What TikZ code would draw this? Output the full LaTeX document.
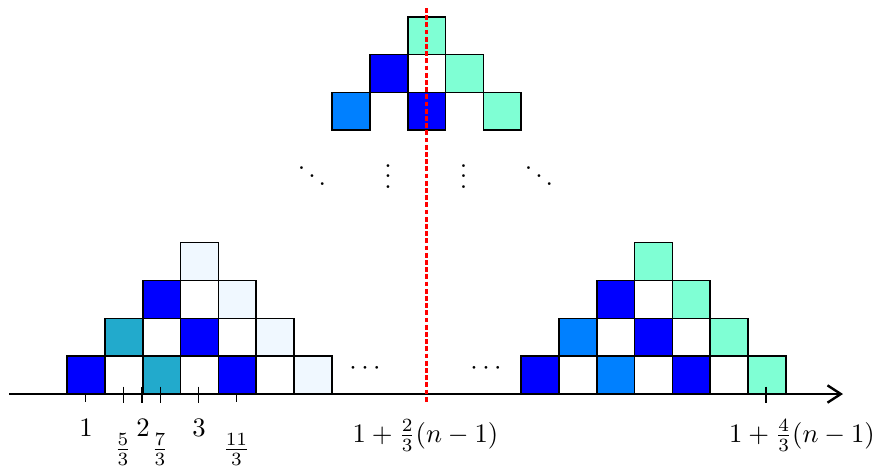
\documentclass[tikz,border=0pt]{standalone}
\usetikzlibrary{arrows.meta}
\definecolor{cblue}{HTML}{0000FF}
\definecolor{cteal}{HTML}{22AACC}
\definecolor{cazure}{HTML}{0080FF}
\definecolor{caqua}{HTML}{7FFFD4}
\definecolor{calice}{HTML}{F0F8FF}
\newcommand\mycell[3]{\filldraw[cellbox,fill=#3] (#1,#2) rectangle ++(\s,\s);}
\begin{document}
\begin{tikzpicture}[x=0.375pt,y=-0.375pt,
  cellbox/.style={draw=black,line width=0.6pt},
  lbl/.style={anchor=base,inner sep=0pt},
  tickline/.style={line width=0.5pt},
  axisline/.style={line width=0.9pt,-{Straight Barb[length=5pt,width=6.5pt]}},
  symline/.style={red,line width=1.1pt,dash pattern=on 1.8pt off 0.9pt}]
\useasboundingbox (0,0) rectangle (875,466);
\def\s{37.85}
% left pyramid
\foreach \c [count=\i from 0] in {cblue,white,cteal,white,cblue,white,calice} {\mycell{67+\i*\s}{356.15}{\c}}
\foreach \c [count=\i from 1] in {cteal,white,cblue,white,calice} {\mycell{67+\i*\s}{318.3}{\c}}
\foreach \c [count=\i from 2] in {cblue,white,calice} {\mycell{67+\i*\s}{280.45}{\c}}
\mycell{67+3*\s}{242.6}{calice}
% right pyramid
\foreach \c [count=\i from 0] in {cblue,white,cazure,white,cblue,white,caqua} {\mycell{521+\i*\s}{356.15}{\c}}
\foreach \c [count=\i from 1] in {cazure,white,cblue,white,caqua} {\mycell{521+\i*\s}{318.3}{\c}}
\foreach \c [count=\i from 2] in {cblue,white,caqua} {\mycell{521+\i*\s}{280.45}{\c}}
\mycell{521+3*\s}{242.6}{caqua}
% top pyramid
\mycell{332}{92.4}{cazure}
\mycell{332+2*\s}{92.4}{cblue}
\mycell{332+4*\s}{92.4}{caqua}
\foreach \c [count=\i from 1] in {cblue,white,caqua} {\mycell{332+\i*\s}{54.55}{\c}}
\mycell{332+2*\s}{16.7}{caqua}
% axis
\coordinate (axL) at (9,394);
\coordinate (axR) at (843,394);
\draw[axisline] (axL) -- (axR);
% ticks
\coordinate (t1) at (85.7,394);
\coordinate (t53) at (123.3,394);
\coordinate (t2) at (142,394);
\coordinate (t73) at (160.5,394);
\coordinate (t3) at (198.7,394);
\coordinate (t113) at (236.7,394);
\coordinate (tn) at (766,394);
\foreach \t in {t1,t113} {\draw[tickline] (\t) -- ++(0,8);}
\foreach \t in {t53,t2,t73,t3,tn} {\draw[tickline] ([yshift=2.8pt]\t) -- ++(0,16);}
% labels
\node[lbl] (l1) at (86,436) {$1$};
\node[lbl] (l2) at (143,436) {$2$};
\node[lbl] (l3) at (199,436) {$3$};
\node[lbl] (l53) at (123,456) {$\frac{5}{3}$};
\node[lbl] (l73) at (160,456) {$\frac{7}{3}$};
\node[lbl] (l113) at (236.5,456) {$\frac{11}{3}$};
\node[lbl] (lmid) at (425.5,442) {$1+\frac{2}{3}(n-1)$};
\node[lbl] (lright) at (802,442) {$1+\frac{4}{3}(n-1)$};
% dots
\node[lbl] (c1) at (365,374.7) {$\cdots$};
\node[lbl] (c2) at (486,374.7) {$\cdots$};
\node[lbl] (d1) at (312,188.1) {$\ddots$};
\node[lbl] (v1) at (388,188.5) {$\vdots$};
\node[lbl] (v2) at (463.5,188.5) {$\vdots$};
\node[lbl] (d2) at (539,188.1) {$\ddots$};
% symmetry line
\coordinate (rT) at (426.5,8);
\coordinate (rB) at (426.5,403);
\draw[symline] (rT) -- (rB);
\end{tikzpicture}
\end{document}
